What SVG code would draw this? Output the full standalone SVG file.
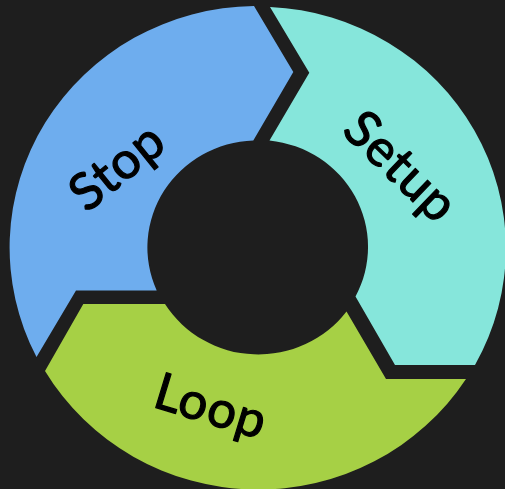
<svg xmlns="http://www.w3.org/2000/svg" width="505" height="489" viewBox="0 0 505 489">
<style>
.lbl{font-family:Lato,"Open Sans","DejaVu Sans",sans-serif;font-size:51px;fill:#000;text-anchor:middle;letter-spacing:1px;stroke:#000;stroke-width:1.2;stroke-linejoin:round}
</style>
<rect width="505" height="489" fill="#1e1e1e"/>
<g id="stop">
<path fill="#6eadee" d="M254,6 L293.3,72 L253.3,140.5 A110,107 0 0 0 156.7,290.5 L76,290.5 L36.5,357 A247.5,241.5 0 0 1 254,6 Z"/>
<text class="lbl" transform="translate(128,180) rotate(-39)">Stop</text>
</g>
<g id="setup">
<path fill="#86e6db" d="M270,7 A247.5,241.5 0 0 1 475,365 L395,365 L355.5,296.5 A110,107 0 0 0 269.5,140.5 L309.3,72.7 Z"/>
<text class="lbl" transform="translate(389,179) rotate(44)">Setup</text>
</g>
<g id="loop">
<path fill="#a6d045" d="M165,304 A110,107 0 0 0 346.5,311.5 L386,379 L466,379 A247.5,241.5 0 0 1 45,371 L83.3,304 Z"/>
<text class="lbl" transform="translate(206,423) rotate(17)">Loop</text>
</g>
<g id="connectors"/>
</svg>
